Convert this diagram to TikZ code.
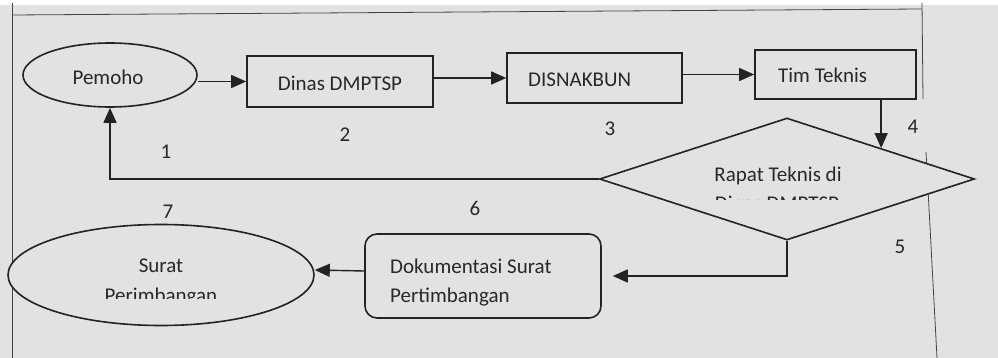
\documentclass[tikz,border=0pt]{standalone}
\usepackage{fontspec}
\setmainfont{Carlito}
\usetikzlibrary{shapes.geometric,arrows.meta}
\definecolor{paper}{RGB}{226,226,224}
\definecolor{ink}{RGB}{35,35,35}
\definecolor{txt}{RGB}{40,40,40}
\begin{document}
\begin{tikzpicture}[x=1pt,y=-1pt,
  shp/.style={draw=ink, line width=1.6pt, fill=paper, inner sep=0pt},
  lbl/.style={text=txt, font=\fontsize{21}{25}\selectfont, inner sep=0pt},
  arr/.style={draw=ink, line width=1.4pt, -{Triangle[length=15pt,width=13pt]}},
  border/.style={draw=ink!85, line width=0.8pt}]
\fill[paper] (0,0) rectangle (998,358);
\fill[white!92!paper] (0,0) rectangle (998,5);
\useasboundingbox (0,0) rectangle (998,358);
% page borders
\draw[border] (12,3) -- (12,358);
\draw[border] (12,15) -- (922,9);
\draw[border] (922,3) -- (923,99);
\draw[border] (926,152) -- (937,358);
% shapes
\node[shp, ellipse, minimum width=174pt, minimum height=64pt] (pemoho) at (110,75) {};
\node[shp, rectangle, minimum width=186pt, minimum height=51pt] (dinas) at (340,81.5) {};
\node[shp, rectangle, minimum width=175pt, minimum height=50pt] (disnak) at (594.5,78) {};
\node[shp, rectangle, minimum width=161pt, minimum height=49pt] (tim) at (835.5,74.5) {};
\node[shp, diamond, minimum width=375pt, minimum height=122pt] (rapat) at (787,179) {};
\node[shp, rectangle, rounded corners=12pt, minimum width=236pt, minimum height=84pt] (dok) at (483,276) {};
\node[shp, ellipse, minimum width=306pt, minimum height=101pt] (surat) at (161,275) {};
% texts
\node[lbl, anchor=base] (tpemoho) at (108,85) {Pemoho};
\node[lbl, anchor=base] (tdinas) at (340,91) {Dinas DMPTSP};
\node[lbl, anchor=base west] (tdisnak) at (528,87) {DISNAKBUN};
\node[lbl, anchor=base west] (ttim) at (778,83) {Tim Teknis};
\node[lbl, anchor=base] (trapat) at (778,182) {Rapat Teknis di};
\begin{scope}
  \clip (600,150) rectangle (960,199.5);
  \node[lbl, anchor=base] (trapat2) at (777,211) {Dinas DMPTSP};
\end{scope}
\node[lbl, anchor=base west] (tdok1) at (390,273) {Dokumentasi Surat};
\node[lbl, anchor=base west] (tdok2) at (390,302) {Pertimbangan};
\node[lbl, anchor=base] (tsurat1) at (161,272) {Surat};
\begin{scope}
  \clip (20,280) rectangle (310,298);
  \node[lbl, anchor=base] (tsurat2) at (161,302) {Perimbangan};
\end{scope}
% step numbers
\node[lbl] (n1) at (166,152) {1};
\node[lbl] (n2) at (345,135) {2};
\node[lbl] (n3) at (610,129) {3};
\node[lbl] (n4) at (913,127) {4};
\node[lbl] (n5) at (900,247) {5};
\node[lbl] (n6) at (475,208) {6};
\node[lbl] (n7) at (168,212) {7};
% connectors
\draw[arr] (dinas.west -| pemoho.east) -- (dinas.west);
\draw[arr] (dinas.east |- disnak.west) -- (disnak.west);
\draw[arr] (disnak.east |- tim.west) -- (tim.west);
\draw[arr] (tim.south -| rapat.north east) -- (rapat.north east);
\draw[arr] (rapat.west) -- (rapat.west -| pemoho.south) -- (pemoho.south);
\draw[arr] (rapat.south) |- ([xshift=11pt]dok.east);
\draw[arr] ([yshift=5pt]dok.west) -- ([yshift=5pt]surat.east);
\end{tikzpicture}
\end{document}
